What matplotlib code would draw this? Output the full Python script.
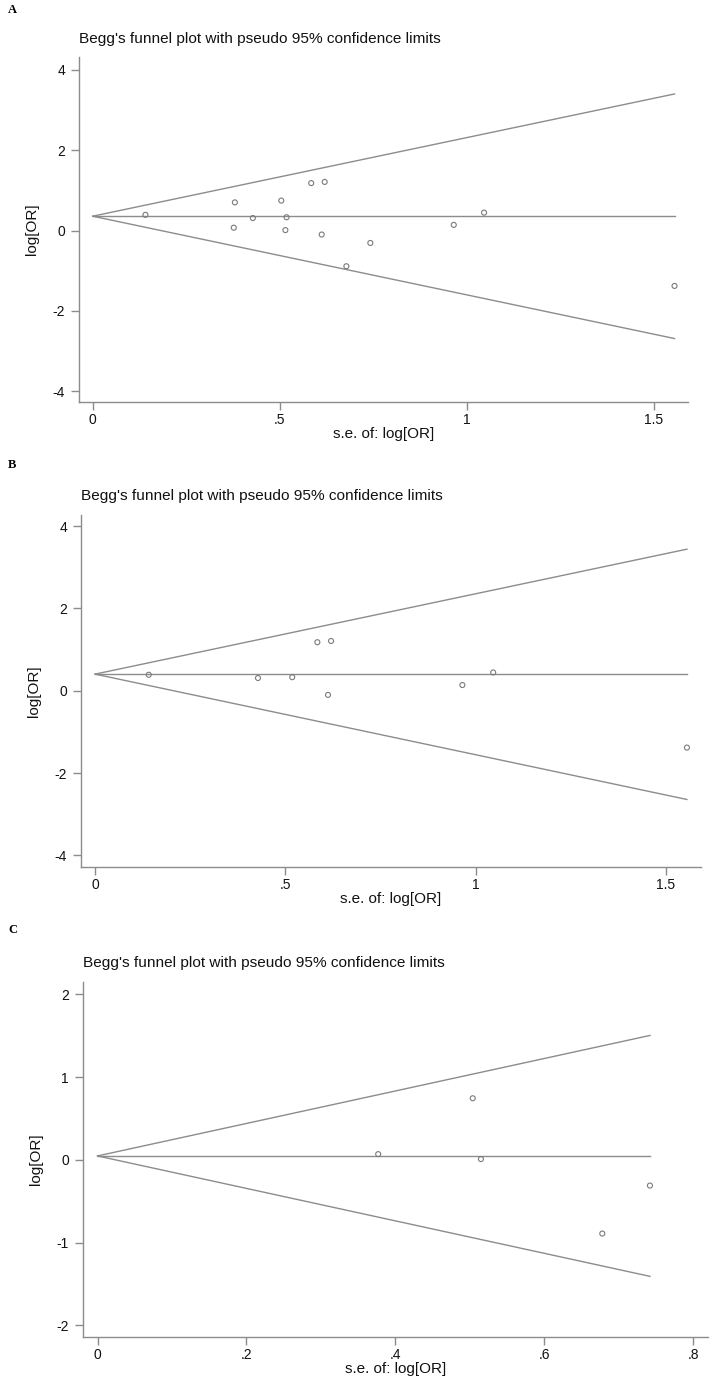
import numpy as np
import matplotlib.pyplot as plt

# panel A: all studies
se_a = [0.141, 0.380, 0.377, 0.428, 0.504, 0.518, 0.515, 0.584, 0.620, 0.612, 0.678, 0.742, 0.965, 1.046, 1.555]
lor_a = [0.39, 0.70, 0.07, 0.31, 0.745, 0.33, 0.01, 1.18, 1.21, -0.10, -0.89, -0.31, 0.14, 0.445, -1.38]
pooled_a = 0.356
limits_a = [3.40, -2.69]

# panel B
se_b = [0.141, 0.428, 0.518, 0.584, 0.620, 0.612, 0.965, 1.046, 1.555]
lor_b = [0.39, 0.31, 0.33, 1.18, 1.21, -0.10, 0.14, 0.445, -1.38]
pooled_b = 0.405
limits_b = [3.44, -2.64]

# panel C
se_c = [0.377, 0.504, 0.515, 0.678, 0.742]
lor_c = [0.07, 0.745, 0.01, -0.89, -0.31]
pooled_c = 0.048
limits_c = [1.504, -1.407]

xticks_ab = [0, 0.5, 1, 1.5]
xlabels_ab = ['0', '.5', '1', '1.5']
yticks_ab = [-4, -2, 0, 2, 4]
xticks_c = [0, 0.2, 0.4, 0.6, 0.8]
xlabels_c = ['0', '.2', '.4', '.6', '.8']
yticks_c = [-2, -1, 0, 1, 2]

W, H = 712, 1380
plt.rcParams['font.family'] = ['Liberation Sans', 'DejaVu Sans']
fig = plt.figure(figsize=(W / 100, H / 100), dpi=100)
fig.patch.set_facecolor('white')

GREY = '#8c8c8c'
TITLE = "Begg's funnel plot with pseudo 95% confidence limits"


def px_axes(left, top, right, bottom):
    return fig.add_axes([left / W, 1 - bottom / H, (right - left) / W, (bottom - top) / H])


def funnel(ax, se, lor, pooled, limits, xticks, xlabels, yticks, xlim, ylim):
    smax = max(se)
    ax.plot([0, smax], [pooled, pooled], color=GREY, lw=1.0, clip_on=False)
    ax.plot([0, smax], [pooled, limits[0]], color=GREY, lw=1.0, clip_on=False)
    ax.plot([0, smax], [pooled, limits[1]], color=GREY, lw=1.0, clip_on=False)
    ax.scatter(se, lor, s=13, facecolors='none', edgecolors='#7a7a7a', linewidths=0.8,
               clip_on=False, zorder=3)
    ax.set_xlim(*xlim)
    ax.set_ylim(*ylim)
    ax.set_xticks(xticks)
    ax.set_xticklabels(xlabels)
    ax.set_yticks(yticks)
    ax.set_yticklabels([str(t) for t in yticks])
    for s in ['top', 'right']:
        ax.spines[s].set_visible(False)
    for s in ['left', 'bottom']:
        ax.spines[s].set_color(GREY)
        ax.spines[s].set_linewidth(1.0)
    ax.tick_params(direction='out', length=5.5, width=1.0, color=GREY, labelsize=10,
                   labelcolor='#111111')
    ax.tick_params(axis='y', pad=4.5)
    ax.tick_params(axis='x', pad=2.5)
    ax.set_xlabel('s.e. of: log[OR]', fontsize=11, labelpad=0, color='#111111')
    ax.set_ylabel('log[OR]', fontsize=11, labelpad=10, color='#111111')


def label(x, y, txt, **kw):
    fig.text(x / W, 1 - y / H, txt, **kw)


# A
axa = px_axes(79, 57, 688, 402)
funnel(axa, se_a, lor_a, pooled_a, limits_a, xticks_ab, xlabels_ab, yticks_ab,
       (-0.0366, 1.591), (-4.27, 4.32))
label(8, 10, 'A', fontsize=9, fontweight='bold', family='Liberation Serif', va='center')
label(79, 39, TITLE, fontsize=11.1, va='center', color='#111111')

# B
axb = px_axes(81, 515, 701, 867)
funnel(axb, se_b, lor_b, pooled_b, limits_b, xticks_ab, xlabels_ab, yticks_ab,
       (-0.037, 1.592), (-4.28, 4.27))
label(8, 465, 'B', fontsize=9, fontweight='bold', family='Liberation Serif', va='center')
label(81, 496, TITLE, fontsize=11.1, va='center', color='#111111')

# C
axc = px_axes(83, 982, 708, 1337)
funnel(axc, se_c, lor_c, pooled_c, limits_c, xticks_c, xlabels_c, yticks_c,
       (-0.0195, 0.820), (-2.14, 2.15))
label(8, 930, 'C', fontsize=9, fontweight='bold', family='Liberation Serif', va='center')
label(83, 963, TITLE, fontsize=11.1, va='center', color='#111111')

fig.savefig('out.png', dpi=100, facecolor='white')
